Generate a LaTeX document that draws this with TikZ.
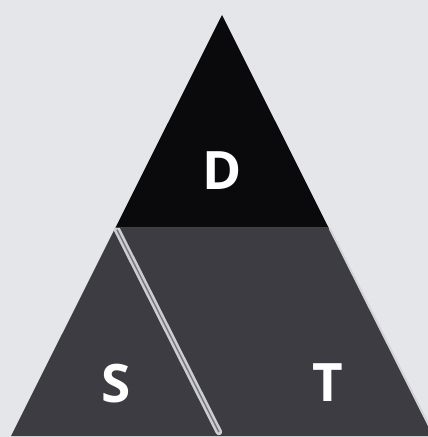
\documentclass[tikz,border=0pt]{standalone}
\usepackage{fontspec}
\setmainfont{Open Sans}
\usepackage{tikz}
\usetikzlibrary{calc}
\definecolor{bgcolor}{RGB}{229,230,234}
\definecolor{topcolor}{RGB}{10,10,12}
\definecolor{lowcolor}{RGB}{60,60,66}
\definecolor{groovecolor}{RGB}{205,206,212}
\tikzset{
  letter/.style={text=white, font=\fontsize{53}{53}\selectfont\bfseries, inner sep=0pt},
  grooveln/.style={groovecolor, line width=6.5pt, line cap=round},
  groovemid/.style={lowcolor!70, line width=1.4pt},
  edgeln/.style={groovecolor!90, line width=2pt},
}

\begin{document}
\begin{tikzpicture}[x=1pt, y=-1pt]
    \useasboundingbox (0,0) rectangle (428,437);
    \fill[bgcolor] (0,0) rectangle (428,437);
    \begin{scope}
    \clip (0,0) rectangle (428,437);
    % corners of the big triangle
    \coordinate (apex) at (222,15);
    \coordinate (bl) at (11,436);
    \coordinate (br) at (433,436);
    \coordinate (ml) at ($(apex)!0.505!(bl)$);
    \coordinate (mr) at ($(apex)!0.505!(br)$);
    \coordinate (bm) at ($(ml)+(br)-(mr)$);
    % lower part S and T
    \fill[lowcolor] (ml) -- (mr) -- (br) -- (bl) -- cycle;
    % light edge on the right side
    \draw[edgeln] ($(mr)+(1.2,1)$) -- ($(br)+(1.2,0)$);
    % groove between S and T
    \draw[grooveln] ($(ml)+(1.5,2)$) -- ($(bm)+(-1,-4)$);
    \draw[groovemid] ($(ml)+(1.5,2)$) -- ($(bm)+(-1,-4)$);
    % top part D
    \fill[topcolor] (apex) -- (mr) -- (ml) -- cycle;
    \end{scope}
    % letters
    \node[letter] (D) at (222,171) {D};
    \node[letter] (S) at (116,384) {S};
    \node[letter] (T) at (328,383) {T};
  \end{tikzpicture}
\end{document}
